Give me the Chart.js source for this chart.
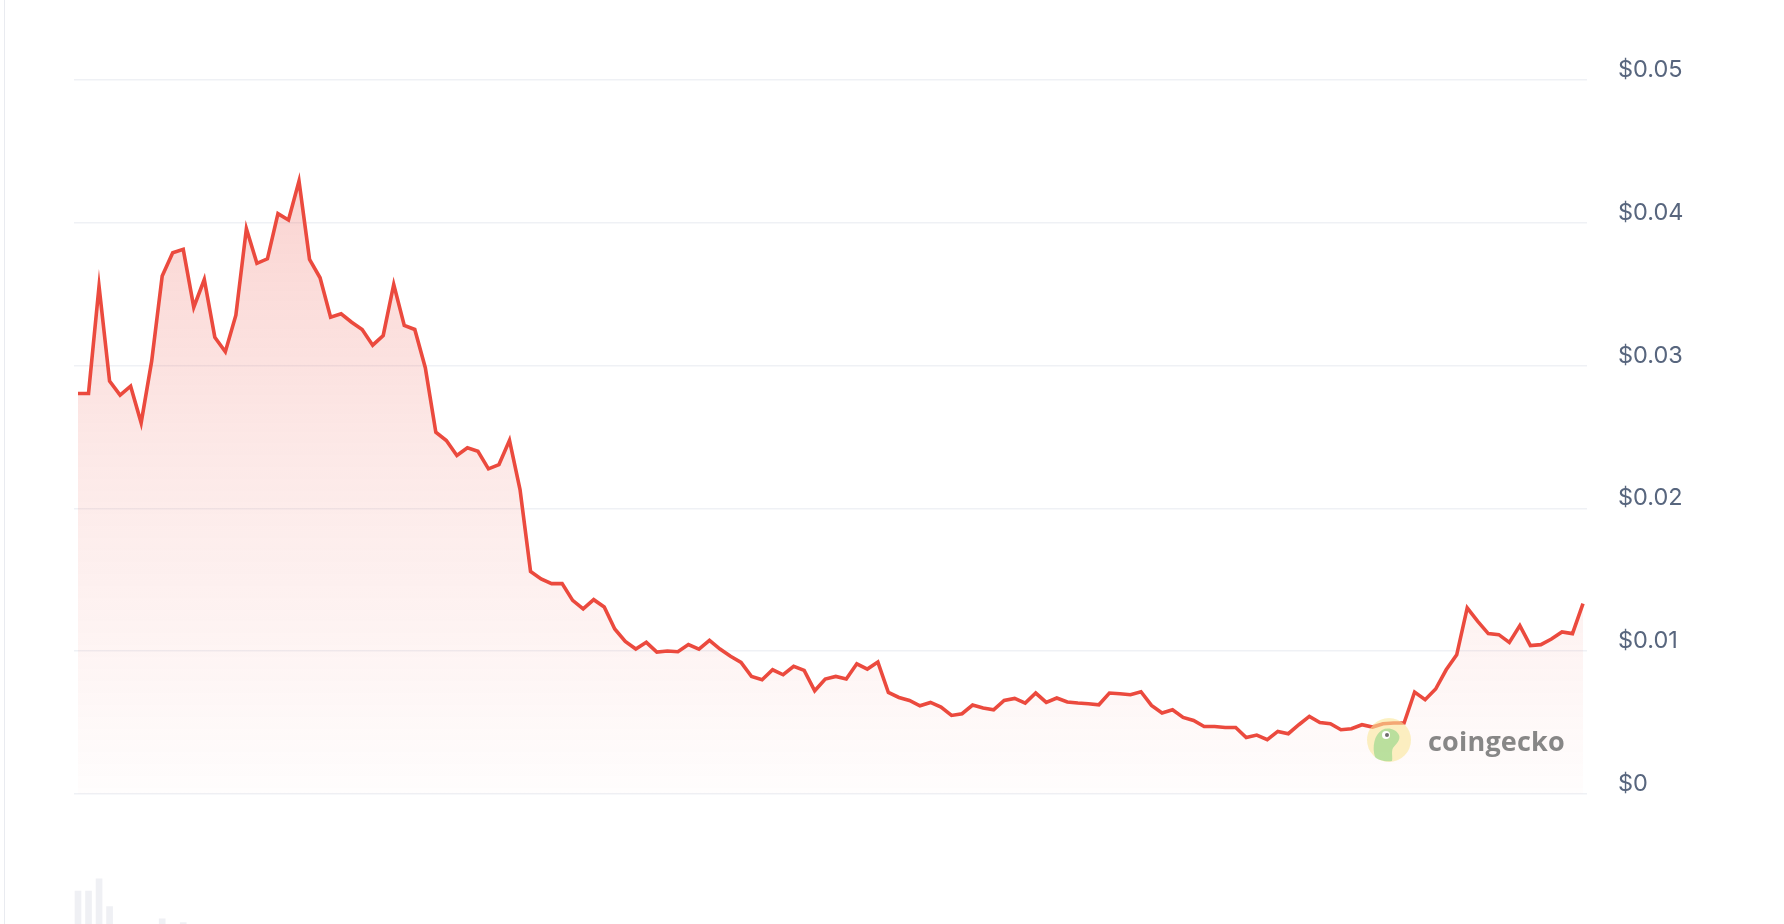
<!DOCTYPE html>
<html>
<head>
<meta charset="utf-8">
<script src="https://cdn.jsdelivr.net/npm/chart.js@4"></script>
<style>
  html, body { margin: 0; padding: 0; background: #fff; overflow: hidden; }
  #wrap { position: relative; width: 1784px; height: 924px; }
  #priceChart { position: absolute; left: 0; top: 0; }
  #volumeChart { position: absolute; left: 0; top: 844px; }
  #edge { position: absolute; left: 4px; top: 0; width: 1px; height: 924px; background: #e9ebf0; }
  #mark { position: absolute; left: 1366px; top: 717px; display: flex; align-items: center; opacity: 0.85; pointer-events: none; }
  #mark span { font-family: "Open Sans", sans-serif; font-weight: 700; font-size: 27px; color: #737373; margin-left: 16px; letter-spacing: 0.2px; }
</style>
</head>
<body>
<div id="wrap">
  <div id="edge"></div>
  <canvas id="volumeChart" width="1784" height="216"></canvas>
  <canvas id="priceChart" width="1784" height="924"></canvas>
  <div id="mark">
    <svg width="46" height="46" viewBox="0 0 46 46">
      <circle cx="23" cy="23" r="22" fill="#f9e79a" fill-opacity="0.7"/>
      <path d="M9 40 C6 30 8 18 16 13 C22 10 30 12 33 18 C35 23 30 27 27 31 C25 35 27 40 26 44 C19 45 12 43 9 40 Z" fill="#a6d98a" fill-opacity="0.9"/>
      <circle cx="20" cy="18" r="4" fill="#fff"/>
      <circle cx="21" cy="18" r="2" fill="#555"/>
    </svg>
    <span>coingecko</span>
  </div>
</div>
<script>
// price points, read left to right off the reference
const prices = [
  0.02805, 0.02805, 0.03556, 0.02891, 0.02793, 0.02856, 0.02599, 0.03031, 0.03627, 0.03790,
  0.03814, 0.03409, 0.03603, 0.03199, 0.03097, 0.03353, 0.03959, 0.03716, 0.03748, 0.04064,
  0.04019, 0.04292, 0.03744, 0.03615,
  0.03339, 0.03363, 0.03304, 0.03253, 0.03143, 0.03211, 0.03568, 0.03281, 0.03253, 0.02985,
  0.02533, 0.02475, 0.02370, 0.02424, 0.02400, 0.02277, 0.02307, 0.02477, 0.02132, 0.01559,
  0.01506, 0.01473, 0.01473, 0.01356, 0.01296,
  0.01361, 0.01310, 0.01156, 0.01069, 0.01015, 0.01062, 0.00994, 0.01001, 0.00996, 0.01046,
  0.01015, 0.01076, 0.01015, 0.00964, 0.00922, 0.00823, 0.00800, 0.00870, 0.00835, 0.00894,
  0.00866, 0.00723, 0.00805, 0.00823,
  0.00805, 0.00912, 0.00875, 0.00924, 0.00711, 0.00676, 0.00655, 0.00618, 0.00641, 0.00609,
  0.00550, 0.00562, 0.00623, 0.00602, 0.00590, 0.00655, 0.00669, 0.00637, 0.00707, 0.00641,
  0.00672, 0.00644, 0.00637, 0.00632,
  0.00625, 0.00707, 0.00702, 0.00695, 0.00716, 0.00620, 0.00567, 0.00590, 0.00536, 0.00515,
  0.00473, 0.00473, 0.00466, 0.00466, 0.00396, 0.00413, 0.00380, 0.00438, 0.00422, 0.00485,
  0.00543, 0.00501, 0.00492, 0.00450,
  0.00457, 0.00485, 0.00469, 0.00492, 0.00497, 0.00497, 0.00714, 0.00660, 0.00735, 0.00870,
  0.00975, 0.01303, 0.01209, 0.01123, 0.01116, 0.01062, 0.01179, 0.01039, 0.01046, 0.01085,
  0.01135, 0.01123, 0.01333
];

// only the tops of the first few volume bars show at the bottom edge
const volumes = [782, 782, 839, 710, null, null, null, null, 653, null, 636];

const yTicks = [0, 0.01, 0.02, 0.03, 0.04, 0.05];

const RED = '#eb4a3e';
const GRID = '#eff1f5';
const xRange = { min: -0.38, max: prices.length - 1 + 0.38 };

function fillGradient(context) {
    const area = context.chart.chartArea;
    if (!area) return 'rgba(235,74,62,0.15)';
    const g = context.chart.ctx.createLinearGradient(0, area.top, 0, area.bottom);
    g.addColorStop(0, 'rgba(235,74,62,0.28)');
    g.addColorStop(0.5, 'rgba(235,74,62,0.13)');
    g.addColorStop(1, 'rgba(235,74,62,0.01)');
    return g;
}

new Chart(document.getElementById('priceChart'), {
    type: 'line',
    data: {
        datasets: [{
            data: prices.map((p, i) => ({ x: i, y: p })),
            borderColor: RED,
            borderWidth: 3.6,
            backgroundColor: fillGradient,
            fill: 'origin',
            tension: 0,
            pointRadius: 0
        }]
    },
    options: {
        responsive: false,
        animation: false,
        layout: { padding: { left: 74, top: 80, bottom: 130, right: 0 } },
        plugins: { legend: { display: false }, tooltip: { enabled: false } },
        scales: {
            x: { type: 'linear', display: false, min: xRange.min, max: xRange.max },
            y: {
                position: 'right',
                min: 0,
                max: 0.05,
                afterBuildTicks: (scale) => { scale.ticks = yTicks.map(v => ({ value: v })); },
                afterFit: (scale) => { scale.width = 197; },
                border: { display: false },
                grid: { color: GRID, lineWidth: 1.5, drawTicks: false },
                ticks: {
                    padding: 31,
                    labelOffset: -10,
                    color: '#58667e',
                    font: { family: 'Inter', size: 23.5 },
                    callback: (v) => v === 0 ? '$0' : '$' + v.toFixed(2)
                }
            }
        }
    }
});

new Chart(document.getElementById('volumeChart'), {
    type: 'bar',
    data: {
        datasets: [{
            data: volumes.map((v, i) => ({ x: i, y: v })),
            backgroundColor: '#eff0f4',
            barThickness: 6
        }]
    },
    options: {
        responsive: false,
        animation: false,
        layout: { padding: { left: 74, right: 197, top: 0, bottom: 0 } },
        plugins: { legend: { display: false }, tooltip: { enabled: false } },
        scales: {
            x: { type: 'linear', display: false, offset: false, min: xRange.min, max: xRange.max },
            y: { display: false, min: 0, max: 1000 }
        }
    }
});
</script>
</body>
</html>
